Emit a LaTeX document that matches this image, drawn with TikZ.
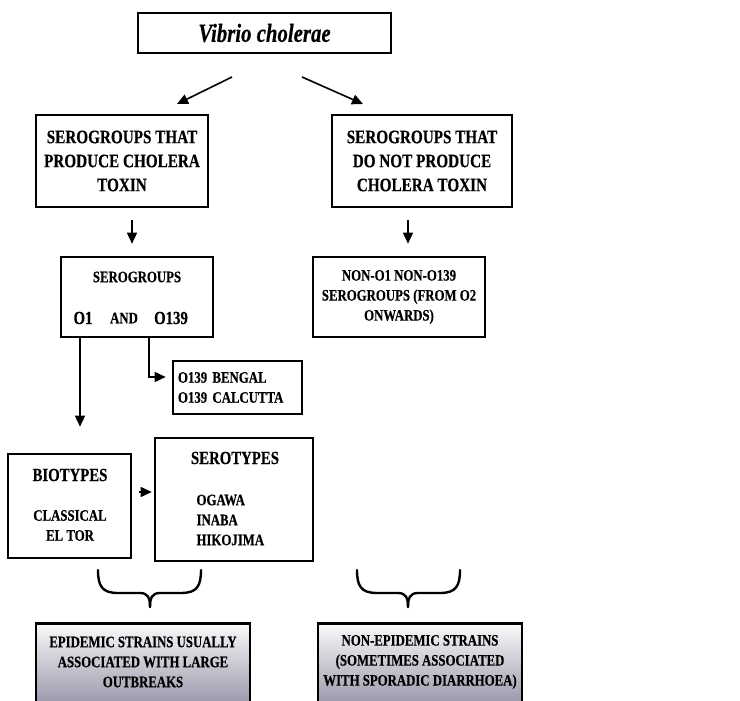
\documentclass[tikz,border=0pt]{standalone}
\usepackage{fontspec}
\setmainfont{Liberation Serif}[FakeStretch=0.8,FakeBold=0.4]
\usetikzlibrary{arrows.meta}
\begin{document}
\begin{tikzpicture}[x=1pt,y=-1pt,
  box/.style={draw,line width=2.6pt,rectangle,inner sep=0pt},
  big/.style={font=\fontsize{19}{24}\selectfont\bfseries,align=center},
  med/.style={font=\fontsize{18.5}{22}\selectfont\bfseries},
  sml/.style={font=\fontsize{16}{20}\selectfont\bfseries},
  arr/.style={-{Triangle[length=11pt,width=10pt]},line width=1.6pt},
  brc/.style={line width=2.4pt,line cap=round},
  shd/.style={top color=white!96!gray,bottom color=black!38!white!92!blue},
]
\clip (0,0) rectangle (740,701);
\fill[white] (0,0) rectangle (740,701);
% boxes
\node[box,minimum width=253pt,minimum height=40pt,font=\fontsize{26}{28}\selectfont\bfseries\itshape] (vib) at (264.5,33) {Vibrio cholerae};
\node[box,big,minimum width=172pt,minimum height=92pt] (prod) at (122,161) {SEROGROUPS THAT\\PRODUCE CHOLERA\\TOXIN};
\node[box,big,minimum width=180pt,minimum height=92pt] (noprod) at (422,161) {SEROGROUPS THAT\\DO NOT PRODUCE\\CHOLERA TOXIN};
\node[box,minimum width=152pt,minimum height=80pt] (sero) at (137,297) {};
\node[sml] (serot1) at (137,277) {SEROGROUPS};
\node[med] (o1) at (83,318) {O1};
\node[sml] (and) at (124,318) {AND};
\node[med] (o139) at (171,318) {O139};
\node[box,sml,align=center,minimum width=172pt,minimum height=80pt] (non) at (399,297) {NON-O1 NON-O139\\SEROGROUPS (FROM O2\\ONWARDS)};
\node[box,sml,align=left,minimum width=129pt,minimum height=53pt,text width=119pt] (beng) at (237.5,387.5) {O139 BENGAL\\O139 CALCUTTA};
\node[box,minimum width=123pt,minimum height=104pt] (bio) at (69.5,506) {};
\node[med] (biot) at (70,475) {BIOTYPES};
\node[sml,align=center] (biol) at (70,525.5) {CLASSICAL\\EL TOR};
\node[box,minimum width=158pt,minimum height=123pt] (serot) at (234,499.5) {};
\node[med] (serott) at (235,458) {SEROTYPES};
\node[sml,align=left,anchor=west] (serol) at (193,520) {OGAWA\\INABA\\HIKOJIMA};
\node[box,shd,minimum width=214pt,minimum height=86pt,anchor=north] (epi) at (143,622) {};
\node[sml,align=center] (epit) at (143,662) {EPIDEMIC STRAINS USUALLY\\ASSOCIATED WITH LARGE\\OUTBREAKS};
\node[box,shd,minimum width=204pt,minimum height=86pt,anchor=north] (nonepi) at (420,622) {};
\node[sml,align=center] (nonepit) at (420,662) {NON-EPIDEMIC STRAINS\\(SOMETIMES ASSOCIATED\\WITH SPORADIC DIARRHOEA)};
% top arrows
\coordinate (a1s) at (232,77);
\coordinate (a1e) at (177,104);
\coordinate (a2s) at (302,77);
\coordinate (a2e) at (363,104);
\draw[arr] (a1s) -- (a1e);
\draw[arr] (a2s) -- (a2e);
% down arrows
\draw[arr,shorten <=12pt,shorten >=12pt] ([xshift=10pt]prod.south) -- ([xshift=-5pt]sero.north);
\draw[arr,shorten <=12pt,shorten >=12pt] ([xshift=-14pt]noprod.south) -- ([xshift=9pt]non.north);
% O1 arrow
\draw[arr,shorten >=26pt] ([xshift=-3pt]sero.south -| o1.center) -- ([xshift=-3pt]bio.north -| o1.center);
% O139 arrow
\draw[arr,shorten >=6pt] ([xshift=12pt]sero.south) |- ([yshift=10.5pt]beng.west);
% bio to serot
\draw[arr,shorten <=7pt,shorten >=2pt] ([yshift=14pt]bio.east) -- ([yshift=7.5pt]serot.west);
% braces
\draw[brc] (98,570) .. controls (98,586) and (102,593) .. (118,593) -- (140,593) .. controls (148,593) and (150,598) .. (150,607);
\draw[brc] (201,570) .. controls (201,586) and (197,593) .. (181,593) -- (160,593) .. controls (152,593) and (150,598) .. (150,607);
\draw[brc] (357,570) .. controls (357,586) and (361,593) .. (377,593) -- (398,593) .. controls (406,593) and (408,598) .. (408,607);
\draw[brc] (460,570) .. controls (460,586) and (456,593) .. (440,593) -- (418,593) .. controls (410,593) and (408,598) .. (408,607);
\end{tikzpicture}
\end{document}
